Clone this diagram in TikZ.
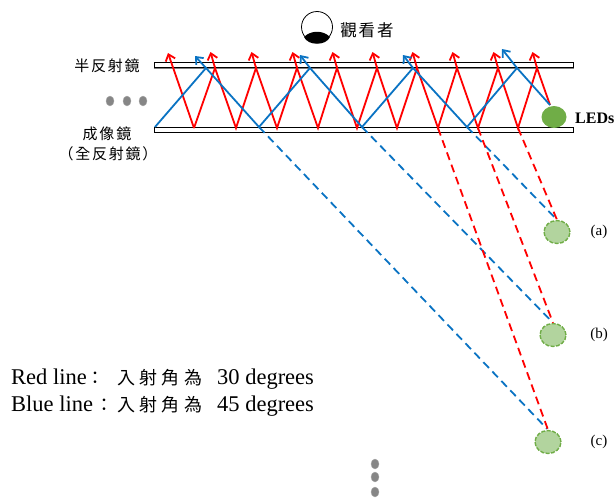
\documentclass[tikz,border=0pt]{standalone}
\usepackage{fontspec}
\setmainfont{Liberation Serif}
\newfontfamily\cjk[LetterSpace=12]{Noto Sans CJK TC}
\newfontfamily\cjkwide[LetterSpace=24]{Noto Sans CJK TC}
\usepackage{tikz}
\usetikzlibrary{shapes.geometric,arrows.meta,calc}
\definecolor{redray}{RGB}{255,0,0}
\definecolor{blueray}{RGB}{10,115,195}
\definecolor{ledgreen}{RGB}{112,173,71}
\definecolor{ledpale}{RGB}{178,212,158}

\begin{document}
\begin{tikzpicture}[
    x=1pt, y=-1pt,
    mirror/.style={draw, line width=1pt, fill=white, minimum width=419pt,
                   minimum height=5.5pt, inner sep=0pt},
    redline/.style={draw=redray, line width=1.8pt},
    blueline/.style={draw=blueray, line width=1.8pt},
    redtip/.style={redline, -{Straight Barb[length=6pt,width=10pt]}},
    bluetip/.style={blueline, -{Straight Barb[length=6pt,width=10pt]}},
    reddash/.style={redline, dash pattern=on 8pt off 5pt},
    bluedash/.style={blueline, dash pattern=on 8pt off 5pt},
    virt/.style={ellipse, draw=ledgreen, line width=1.4pt, dash pattern=on 4pt off 1.5pt,
                 fill=ledpale, minimum width=26pt, minimum height=23pt, inner sep=0pt},
    dotgray/.style={ellipse, fill=gray!95, draw=gray!70, minimum width=8pt,
                    minimum height=10pt, inner sep=0pt},
    zh/.style={font=\fontsize{15}{17}\selectfont\cjk, inner sep=0pt},
    legend/.style={font=\fontsize{22.5}{24}\selectfont, anchor=base west, inner sep=0pt},
    tag/.style={font=\fontsize{15}{17}\selectfont, inner sep=0pt},
  ]
  \useasboundingbox (0,0) rectangle (615,498);

  % Mirrors
  \node[mirror] (half) at (363.5,65) {};
  \draw[gray, line width=1.4pt] (half.south west) -- (half.south east);
  \node[mirror] (full) at (363.5,130) {};
  \node[zh] (halflab) at (107,66) {半反射鏡};
  \node[zh] (fulllab) at (107,134) {成像鏡};
  \node[zh] (fullsub) at (108,154) {（全反射鏡）};

  % Observer
  \node[circle, draw, line width=0.8pt, minimum size=31pt, inner sep=0pt] (eye) at (317,27) {};
  \fill (304,37) .. controls (311,30) and (323,30) .. (330,37)
    .. controls (326,46) and (308,46) .. (304,37) -- cycle;
  \node[zh, font=\fontsize{16.5}{19}\selectfont\cjk] (eyelab) at (367,30) {觀看者};

  % LEDs
  \node[ellipse, fill=ledgreen, minimum width=25pt, minimum height=22pt, inner sep=0pt] (led) at (554,117) {};
  \node[font=\fontsize{16}{18}\selectfont\bfseries, anchor=west, inner sep=0pt] (ledlab) at (575,118) {LEDs};
  \foreach \n/\x/\y in {a/557/232, b/553/335, c/548/442} {
    \node[virt] (virt\n) at (\x,\y) {};
    \node[tag] (tag\n) at (599,\y) {(\n)};
  }

  % Red vertices, right to left
  \foreach \i/\xt/\xb in {1/537/518, 2/498/478, 3/457/438, 4/417/397, 5/377/357,
                          6/337/318, 7/297/277, 8/256/236, 9/215/194} {
    \coordinate (rt\i) at (\xt,68);
    \coordinate (rb\i) at (\xb,128);
    \coordinate (ra\i) at (\xt-4.5,52);
  }
  \coordinate (ra10) at (168,53);
  \coordinate (ledtop) at (550,105);

  % Blue vertices
  \foreach \i/\xt/\xa/\ya/\xb in {1/517/502/49/467, 2/413/403/55/362,
                                  3/310/300/55/259, 4/206/195/56/155} {
    \coordinate (bt\i) at (\xt,68);
    \coordinate (ba\i) at (\xa,\ya);
    \coordinate (bb\i) at (\xb,127);
  }

  % Dashed rays
  \draw[bluedash] (bb1) -- ($(virta.north)+(-1,-1)$);
  \draw[bluedash] (bb2) -- ($(virtb.north)+(-1,-1)$);
  \draw[bluedash] (bb3) -- ($(virtc.north)+(-1,-1)$);
  \draw[reddash] (rb1) -- (virta.north);
  \draw[reddash] (rb2) -- (virtb.north);
  \draw[reddash] (rb3) -- (virtc.north);

  % Red rays
  \draw[redline] (ledtop) -- (rt1) -- (rb1) -- (rt2) -- (rb2) -- (rt3) -- (rb3) -- (rt4) -- (rb4)
    -- (rt5) -- (rb5) -- (rt6) -- (rb6) -- (rt7) -- (rb7) -- (rt8) -- (rb8) -- (rt9) -- (rb9);
  \foreach \i in {1,...,9} {
    \draw[redtip] (rt\i) -- (ra\i);
  }
  \draw[redtip] (rb9) -- (ra10);

  % Blue rays
  \draw[blueline] (ledtop) -- (bt1) -- (bb1) -- (bt2) -- (bb2) -- (bt3) -- (bb3) -- (bt4) -- (bb4);
  \foreach \i in {1,...,4} {
    \draw[bluetip] (bt\i) -- (ba\i);
  }

  % Dots
  \foreach \i/\x in {1/110, 2/127, 3/143} {
    \node[dotgray] (hdot\i) at (\x,101) {};
  }
  \foreach \i/\y in {1/464, 2/477, 3/492} {
    \node[dotgray] (vdot\i) at (375,\y) {};
  }

  % Legend
  \node[legend] (redlab) at (11,384) {\makebox[106pt][l]{Red line{\fontsize{18}{20}\selectfont\cjk：}}{\fontsize{18}{20}\selectfont\cjkwide 入射角為}\hspace{15pt}30 degrees};
  \node[legend] (bluelab) at (11,411) {\makebox[106pt][l]{Blue line\hspace{2pt}{\fontsize{18}{20}\selectfont\cjk：}}{\fontsize{18}{20}\selectfont\cjkwide 入射角為}\hspace{15pt}45 degrees};
\end{tikzpicture}
\end{document}
